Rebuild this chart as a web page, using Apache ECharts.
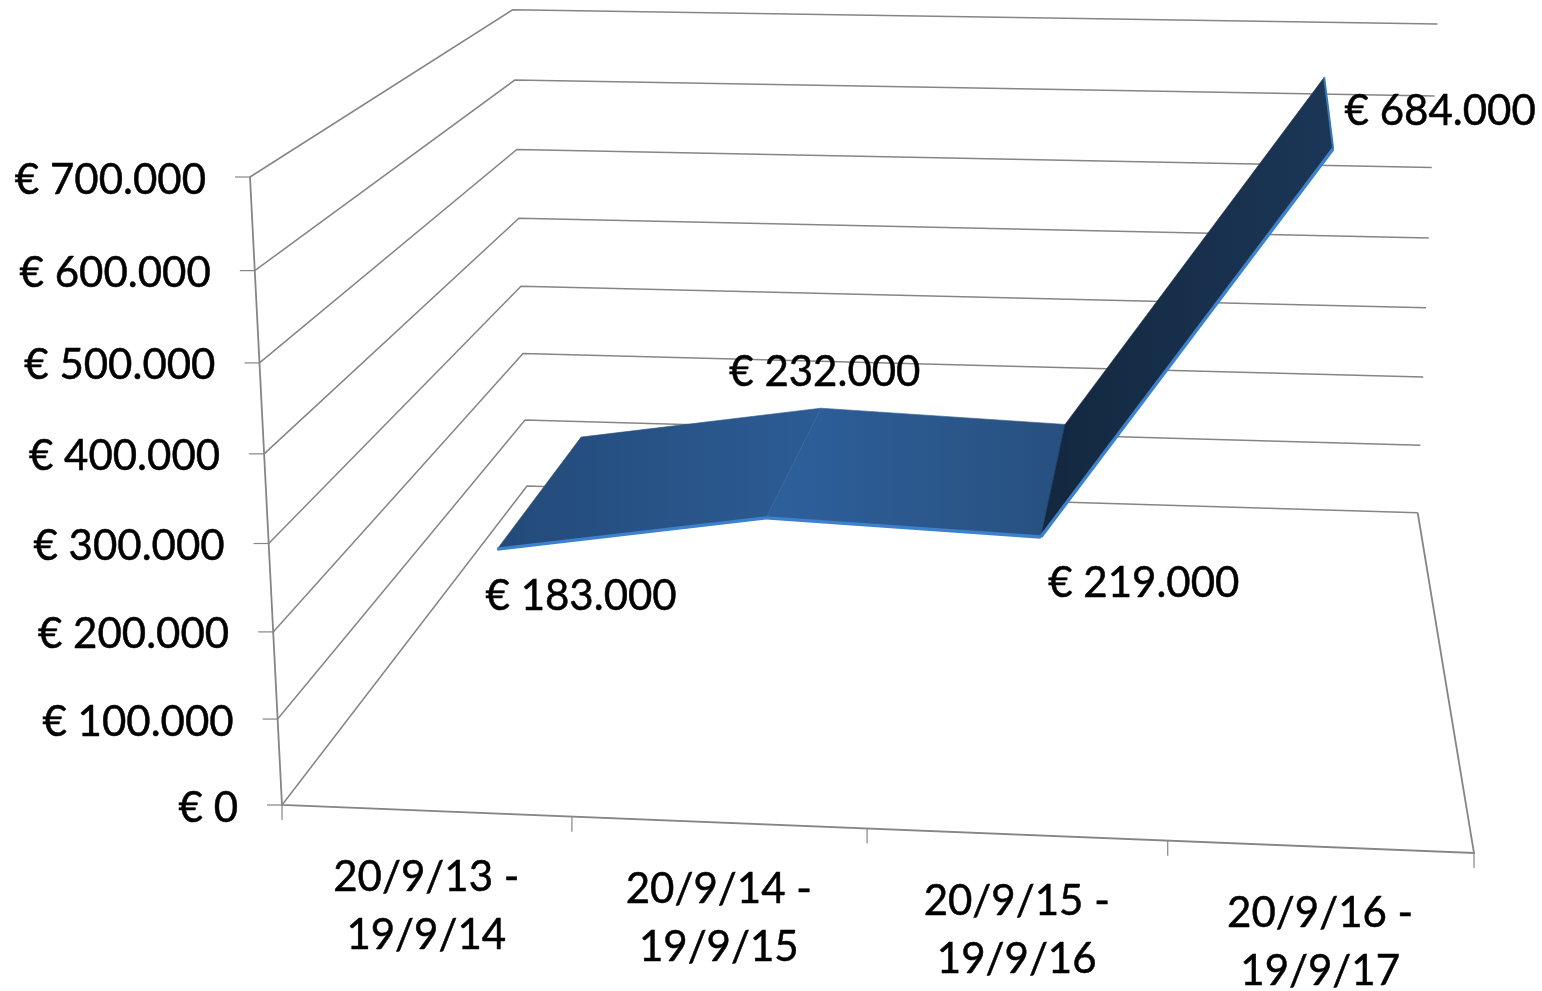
<!DOCTYPE html>
<html>
<head>
<meta charset="utf-8">
<style>
  html, body { margin: 0; padding: 0; background: #fff; }
  #chart { width: 1542px; height: 991px; }
</style>
<script src="https://cdn.jsdelivr.net/npm/echarts@6/dist/echarts.min.js"></script>
</head>
<body>
<div id="chart"></div>
<script>
const categories = ['20/9/13 -\n19/9/14', '20/9/14 -\n19/9/15', '20/9/15 -\n19/9/16', '20/9/16 -\n19/9/17'];
const sales = [183000, 232000, 219000, 684000];
const yTicks = [0, 100000, 200000, 300000, 400000, 500000, 600000, 700000];
const yTickLabels = ['€ 0', '€ 100.000', '€ 200.000', '€ 300.000', '€ 400.000', '€ 500.000', '€ 600.000', '€ 700.000'];
const saleLabels = ['€ 183.000', '€ 232.000', '€ 219.000', '€ 684.000'];

const yMax = 700000;
const FONT = 'Lato';
const FONT_SIZE = 42;
const GREY = '#858585';

// corners of the 3d box on screen, and how fast each axis falls away
const O = [282, 805], A = [1474, 853], B = [250, 177], C = [527, 486];
const persp = { x: -0.036, y: -0.0487, z: 0.336 };

// ribbon sits in the middle of the depth
const zFront = 0.297, zBack = 0.698;

// label offsets from the ribbon, [from back edge?, dx, dy]
const labelPos = [[false, 84, 47], [true, 4, -36], [false, 103, 46], [false, 107, -37]];

const segFills = [
    ['#234a79', '#2c5c95'],
    ['#2e609c', '#27507f'],
    ['#13283f', '#1b3657']
];

// data value -> library coord -> perspective
function project(api, xVal, yVal, z) {
    const c = api.coord([xVal, yVal]);
    const x = c[0] / api.getWidth();
    const y = 1 - c[1] / api.getHeight();
    const w = 1 + persp.x * x + persp.y * y + persp.z * z;
    const out = [0, 1].map(k =>
        (O[k]
            + x * ((1 + persp.x) * A[k] - O[k])
            + y * ((1 + persp.y) * B[k] - O[k])
            + z * ((1 + persp.z) * C[k] - O[k])) / w
    );
    return out;
}

function line(points, width, color) {
    return {
        type: 'polyline',
        shape: { points: points },
        style: { stroke: color || GREY, lineWidth: width || 1.5, fill: null }
    };
}

function label(text, x, y, align) {
    return {
        type: 'text',
        style: {
            text: text, x: x, y: y, fill: '#000',
            stroke: '#000', lineWidth: 0.5,
            fontFamily: FONT, fontSize: FONT_SIZE,
            align: align, verticalAlign: 'middle', lineHeight: 58
        }
    };
}

const chart = echarts.init(document.getElementById('chart'));

chart.setOption({
    animation: false,
    backgroundColor: '#fff',
    grid: { left: 0, right: 0, top: 0, bottom: 0 },
    xAxis: { type: 'value', min: 0, max: categories.length, show: false },
    yAxis: { type: 'value', min: 0, max: yMax, interval: 100000, show: false },
    series: [
        {
            // wall lines, y ticks and labels
            type: 'custom',
            coordinateSystem: 'cartesian2d',
            clip: false,
            silent: true,
            data: yTicks.map(v => [0, v]),
            renderItem(params, api) {
                const v = api.value(1);
                const p0 = project(api, 0, v, 0);
                const p1 = project(api, 0, v, 1);
                const p2 = project(api, categories.length, v, 1);
                return {
                    type: 'group',
                    children: [
                        line([p0, p1, p2]),
                        line([[p0[0] - 15, p0[1]], p0], 1.2),
                        label(yTickLabels[params.dataIndex], p0[0] - 44, p0[1] + 3, 'right')
                    ]
                };
            }
        },
        {
            // axis frame
            type: 'custom',
            coordinateSystem: 'cartesian2d',
            clip: false,
            silent: true,
            data: [[0, 0]],
            renderItem(params, api) {
                const n = categories.length;
                return {
                    type: 'group',
                    children: [
                        line([project(api, 0, yMax, 0), project(api, 0, 0, 0), project(api, n, 0, 0), project(api, n, 0, 1)], 1.8)
                    ]
                };
            }
        },
        {
            // x ticks
            type: 'custom',
            coordinateSystem: 'cartesian2d',
            clip: false,
            silent: true,
            data: [0, 1, 2, 3, 4].map(i => [i, 0]),
            renderItem(params, api) {
                const p = project(api, api.value(0), 0, 0);
                return line([p, [p[0], p[1] + 15]], 1.2);
            }
        },
        {
            // category labels
            type: 'custom',
            coordinateSystem: 'cartesian2d',
            clip: false,
            silent: true,
            data: categories.map((c, i) => [i + 0.5, 0]),
            renderItem(params, api) {
                const p = project(api, api.value(0), 0, 0);
                return label(categories[params.dataIndex], p[0], p[1] + 96, 'center');
            }
        },
        {
            // ribbon, one face per pair of neighbours
            type: 'custom',
            coordinateSystem: 'cartesian2d',
            clip: false,
            silent: true,
            data: sales.map((v, i) => [i + 0.5, v]),
            renderItem(params, api) {
                const i = params.dataIndex;
                if (i >= sales.length - 1) {
                    return null;
                }
                const x0 = api.value(0), v0 = api.value(1);
                const x1 = x0 + 1, v1 = sales[i + 1];
                const f0 = project(api, x0, v0, zFront), f1 = project(api, x1, v1, zFront);
                const b0 = project(api, x0, v0, zBack), b1 = project(api, x1, v1, zBack);
                const fill = () => new echarts.graphic.LinearGradient(0, 0, 1, 0, [
                    { offset: 0, color: segFills[i][0] },
                    { offset: 1, color: segFills[i][1] }
                ]);
                const kids = [
                    {
                        type: 'polygon',
                        shape: { points: [f0, f1, b1, b0] },
                        style: { fill: fill(), stroke: fill(), lineWidth: 0.6 }
                    },
                    line([f0, f1], 3.4, '#3d80cc')
                ];
                if (i === sales.length - 2) {
                    kids.push(line([f1, b1], 2, '#3a76b8'));
                }
                return { type: 'group', children: kids };
            }
        },
        {
            // value labels
            type: 'custom',
            coordinateSystem: 'cartesian2d',
            clip: false,
            silent: true,
            data: sales.map((v, i) => [i + 0.5, v]),
            renderItem(params, api) {
                const pos = labelPos[params.dataIndex];
                const p = project(api, api.value(0), api.value(1), pos[0] ? zBack : zFront);
                return label(saleLabels[params.dataIndex], p[0] + pos[1], p[1] + pos[2], 'center');
            }
        }
    ]
});
</script>
</body>
</html>
